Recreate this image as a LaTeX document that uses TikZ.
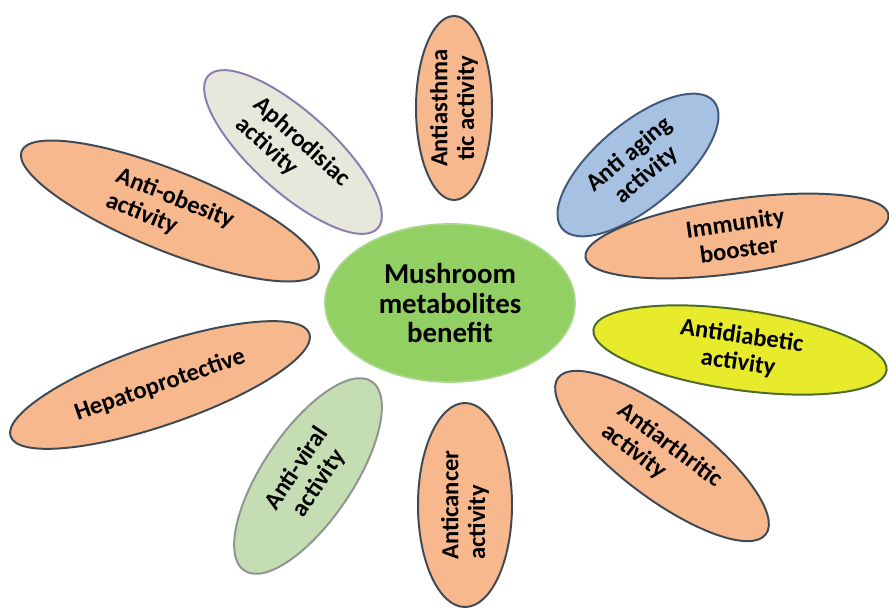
\documentclass[tikz,border=0pt]{standalone}
\usepackage{fontspec}
\setmainfont{Carlito}
\usetikzlibrary{shapes.geometric}

\definecolor{peach}{HTML}{F8B88D}
\definecolor{petalline}{HTML}{3F4954}
\definecolor{aphrofill}{HTML}{E8E7DC}
\definecolor{aphroline}{HTML}{8A7DB0}
\definecolor{agingfill}{HTML}{A6C1E1}
\definecolor{agingline}{HTML}{41597E}
\definecolor{diabfill}{HTML}{E8EA2C}
\definecolor{diabline}{HTML}{4E6A2D}
\definecolor{viralfill}{HTML}{C5DDB3}
\definecolor{viralline}{HTML}{8F9590}
\definecolor{hubfill}{HTML}{92D063}
\definecolor{hubline}{HTML}{A8D98B}

\tikzset{
  petal/.style={ellipse, draw=petalline, fill=peach, line width=1.4pt,
    inner sep=0pt, font=\bfseries\fontsize{17.5}{19}\selectfont},
  peachpetal/.style={petal},
  aphropetal/.style={petal, draw=aphroline, fill=aphrofill},
  agingpetal/.style={petal, draw=agingline, fill=agingfill},
  diabpetal/.style={petal, draw=diabline, fill=diabfill},
  viralpetal/.style={petal, draw=viralline, fill=viralfill},
  hub/.style={ellipse, draw=hubline, fill=hubfill, line width=1.2pt,
    minimum width=6.25cm, minimum height=3.95cm, align=center,
    font=\bfseries\fontsize{20.5}{21}\selectfont}
}

\begin{document}
\begin{tikzpicture}[x=0.025cm, y=-0.025cm]
  \useasboundingbox (0,0) rectangle (889,610);
  % centre of the flower
  \node[hub] (hub) at (450,303) {Mushroom\\metabolites\\benefit};
  % petals: name/x/y/angle/width/height/style/align/text
  \foreach \nm/\px/\py/\ang/\pw/\ph/\sty/\al/\txt in {
      asthma/454/108/90/184/76/peachpetal/center/{Antiasthma\\tic activity},
      aphro/293/152/-42/228/80/aphropetal/left/{Aphrodisiac\\activity},
      aging/638/165/40/198/84/agingpetal/center/{Anti aging\\activity},
      immunity/737/236/8/306/74/peachpetal/center/{Immunity\\booster},
      diabetic/740/350/-8/296/80/diabpetal/center/{Antidiabetic\\activity},
      arthritic/662/456/-37/260/84/peachpetal/left/{Antiarthritic\\activity},
      cancer/465/505/90/204/94/peachpetal/left/{Anticancer\\activity},
      viral/308/476/56/228/90/viralpetal/center/{Anti-viral\\activity},
      hepato/160/385/19/316/80/peachpetal/center/{Hepatoprotective},
      obesity/170/211/-22/320/80/peachpetal/left/{Anti-obesity\\activity}}{
    \node[\sty, rotate=\ang, align=\al,
          minimum width=\pw*0.025cm, minimum height=\ph*0.025cm]
      (\nm) at (\px,\py) {\txt};
  }
\end{tikzpicture}
\end{document}
